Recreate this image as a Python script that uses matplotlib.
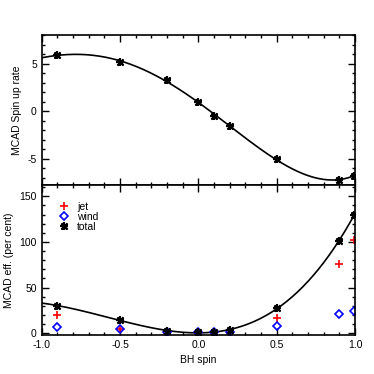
import numpy as np
import matplotlib
matplotlib.use('Agg')
import matplotlib.pyplot as plt
from matplotlib.ticker import MultipleLocator
from matplotlib.legend_handler import HandlerTuple

plt.rcParams['font.family'] = ['Liberation Sans', 'DejaVu Sans']
plt.rcParams['font.size'] = 7.5
plt.rcParams['axes.unicode_minus'] = False

# BH spin values of the simulations
spin = [-0.9, -0.5, -0.2, 0.0, 0.1, 0.2, 0.5, 0.9, 0.99]

# spin-up rate
spinup = [5.9, 5.2, 3.33, 1.0, -0.55, -1.6, -5.0, -7.27, -6.77]

# efficiencies (per cent)
eff_jet = [20.4, 4.4, -0.5, -0.5, -0.5, -0.3, 16.7, 75.7, 101.6]
eff_wind = [6.6, 4.7, 1.5, 1.5, 1.5, 1.5, 7.6, 21.5, 24.0]
eff_total = [30.2, 14.2, 2.5, 0.8, 1.1, 3.3, 27.7, 100.8, 129.0]

FIT_DEG = 4


def poly_curve(x, y, deg):
    coef = np.polyfit(x, y, deg)
    xf = np.linspace(-1.0, 1.0, 300)
    return xf, np.polyval(coef, xf)


def style_axis(ax, ymajor, yminor):
    ax.xaxis.set_major_locator(MultipleLocator(0.5))
    ax.xaxis.set_minor_locator(MultipleLocator(0.1))
    ax.yaxis.set_major_locator(MultipleLocator(ymajor))
    ax.yaxis.set_minor_locator(MultipleLocator(yminor))
    ax.tick_params(which='both', direction='in', top=True, right=True, width=1.0)
    ax.tick_params(which='major', length=5)
    ax.tick_params(which='minor', length=2.5)
    for sp in ax.spines.values():
        sp.set_linewidth(1.2)


def plot_total(ax, x, y):
    # IDL-style asterisk: plus and cross drawn on top of each other
    p, = ax.plot(x, y, marker=(4, 2, 0), color='black', markersize=6,
                 markeredgewidth=1.5, linestyle='none')
    c, = ax.plot(x, y, marker=(4, 2, 45), color='black', markersize=6,
                 markeredgewidth=1.5, linestyle='none')
    return (p, c)


fig = plt.figure(figsize=(3.74, 3.74), dpi=100)
ax1 = fig.add_axes([0.1115, 0.5045, 0.838, 0.4011])
ax2 = fig.add_axes([0.1115, 0.1043, 0.838, 0.4002], sharex=ax1)

# top panel: spin-up rate
xf, yf = poly_curve(spin, spinup, FIT_DEG)
ax1.plot(xf, yf, color='black', linewidth=1.2)
plot_total(ax1, spin, spinup)
ax1.set_xlim(-1.0, 1.0)
ax1.set_ylim(-7.8, 8.0)
ax1.set_ylabel('MCAD Spin up rate')
style_axis(ax1, 5, 1)
ax1.tick_params(labelbottom=False)

# bottom panel: efficiencies
xf, yf = poly_curve(spin, eff_total, FIT_DEG)
ax2.plot(xf, yf, color='black', linewidth=1.2)
h_jet, = ax2.plot(spin, eff_jet, marker='+', color='red', markersize=6,
                  markeredgewidth=1.2, linestyle='none')
h_wind, = ax2.plot(spin, eff_wind, marker='D', color='blue', markerfacecolor='none',
                   markersize=4.5, markeredgewidth=1.2, linestyle='none')
h_total = plot_total(ax2, spin, eff_total)
ax2.set_ylim(-2, 162)
ax2.set_ylabel('MCAD eff. (per cent)')
ax2.set_xlabel('BH spin')
style_axis(ax2, 50, 10)
ax2.xaxis.set_major_formatter(plt.FormatStrFormatter('%.1f'))
ax2.yaxis.set_major_formatter(plt.FormatStrFormatter('%d'))

ax2.legend([h_jet, h_wind, h_total], ['jet', 'wind', 'total'], loc='upper left',
           frameon=False, handlelength=1.0, handletextpad=0.8, labelspacing=0.0,
           borderaxespad=1.0, borderpad=0.6, fontsize=7.5, numpoints=1,
           handler_map={tuple: HandlerTuple(ndivide=1, pad=0)})

fig.savefig('out.png', dpi=100)
